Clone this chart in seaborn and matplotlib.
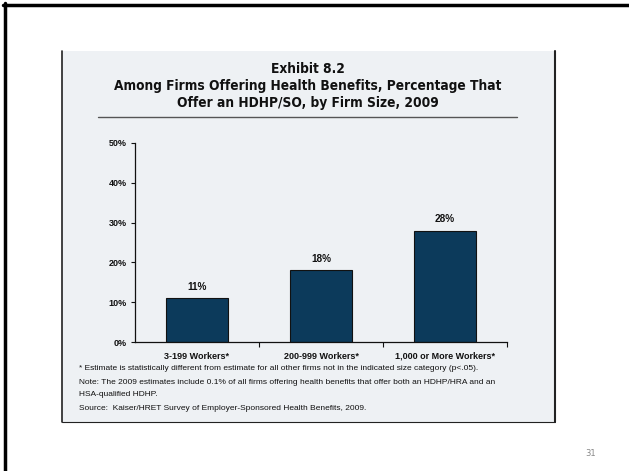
import matplotlib
matplotlib.use("Agg")
import matplotlib.pyplot as plt
from matplotlib.patches import Rectangle
from matplotlib.lines import Line2D
from matplotlib.ticker import FixedLocator, FuncFormatter
import seaborn as sns
import pandas as pd

categories = ["3-199 Workers*", "200-999 Workers*", "1,000 or More Workers*"]
values = [11, 18, 28]
y_ticks = [0, 10, 20, 30, 40, 50]
title_lines = ["Exhibit 8.2",
               "Among Firms Offering Health Benefits, Percentage That",
               "Offer an HDHP/SO, by Firm Size, 2009"]
footnotes = [
    "* Estimate is statistically different from estimate for all other firms not in the indicated size category (p<.05).",
    "Note: The 2009 estimates include 0.1% of all firms offering health benefits that offer both an HDHP/HRA and an",
    "HSA-qualified HDHP.",
    "Source:  Kaiser/HRET Survey of Employer-Sponsored Health Benefits, 2009.",
]
page_number = "31"

sns.set_style("ticks")
FAM = ["Liberation Sans", "DejaVu Sans"]
plt.rcParams["font.family"] = FAM

W, H = 629, 471
fig = plt.figure(figsize=(W / 100, H / 100), dpi=100)
fig.patch.set_facecolor("white")

def fx(px):
    return px / W

def fy(py):
    return 1 - py / H

# outer slide frame (left & top)
fig.add_artist(Line2D([fx(4.5), fx(4.5)], [fy(3), fy(471)], color="black", lw=2.5, zorder=-2))
fig.add_artist(Line2D([fx(3), fx(629)], [fy(4.5), fy(4.5)], color="black", lw=2.5, zorder=-2))

# panel
panel_color = "#eef1f4"
fig.add_artist(Rectangle((fx(61.5), fy(421.5)), fx(554) - fx(61.5), fy(51) - fy(421.5),
                         facecolor=panel_color, edgecolor="none", zorder=-1))
fig.add_artist(Line2D([fx(61.5), fx(61.5)], [fy(51), fy(421.5)], color="#222222", lw=1.2, zorder=-0.5))
fig.add_artist(Line2D([fx(554.5), fx(554.5)], [fy(51), fy(421.5)], color="#222222", lw=1.5, zorder=-0.5))
fig.add_artist(Line2D([fx(61.5), fx(554.5)], [fy(421.5), fy(421.5)], color="#222222", lw=0.8, zorder=-0.5))

# title
for line, yy in zip(title_lines, [69, 86, 103]):
    fig.text(fx(308), fy(yy), line, ha="center", va="center", fontsize=9.8,
             fontweight="bold", color="#111111", family=["DejaVu Sans"], fontstretch="condensed")
fig.add_artist(Line2D([fx(98), fx(517)], [fy(117), fy(117)], color="#555555", lw=1.0))

# axes
ax = fig.add_axes([fx(135), fy(342), fx(507) - fx(135), fy(143) - fy(342)])
ax.set_facecolor("none")
df = pd.DataFrame({"cat": categories, "val": values})
sns.barplot(data=df, x="cat", y="val", order=categories, color="#0c3a5b",
            width=0.5, edgecolor="#111111", linewidth=0.8, saturation=1, ax=ax)
ax.set_xlim(-0.5, 2.5)
ax.set_ylim(0, 50)
ax.set_yticks(y_ticks)
ax.yaxis.set_major_formatter(FuncFormatter(lambda v, p: f"{int(v)}%"))
ax.set_xlabel("")
ax.set_ylabel("")
for s in ["top", "right"]:
    ax.spines[s].set_visible(False)
for s in ["left", "bottom"]:
    ax.spines[s].set_color("#111111")
    ax.spines[s].set_linewidth(0.9)
ax.tick_params(axis="y", length=3, width=0.8, pad=3, labelsize=6.5, colors="#111111")
ax.tick_params(axis="x", which="major", length=0, pad=7, labelsize=6.5, colors="#111111")
ax.xaxis.set_minor_locator(FixedLocator([0.5, 1.5, 2.5]))
ax.tick_params(axis="x", which="minor", length=3.5, width=0.8, color="#111111")
for lab in ax.get_yticklabels() + ax.get_xticklabels():
    lab.set_fontweight("bold")
    lab.set_fontstretch("normal")

for i, v in enumerate(values):
    ax.text(i, v + 1.6, f"{v}%", ha="center", va="bottom", fontsize=7.2,
            fontweight="bold", fontstretch="normal", color="#111111", family=["Liberation Sans"])

# footnotes
for line, yy in zip(footnotes, [369, 383, 394, 409]):
    fig.text(fx(79), fy(yy), line, ha="left", va="center", fontsize=6.05, color="#111111", family=FAM)

fig.text(fx(591), fy(453), page_number, ha="center", va="center", fontsize=6, color="#888888",
         family=["DejaVu Sans"])

fig.savefig("out.png", dpi=100)
